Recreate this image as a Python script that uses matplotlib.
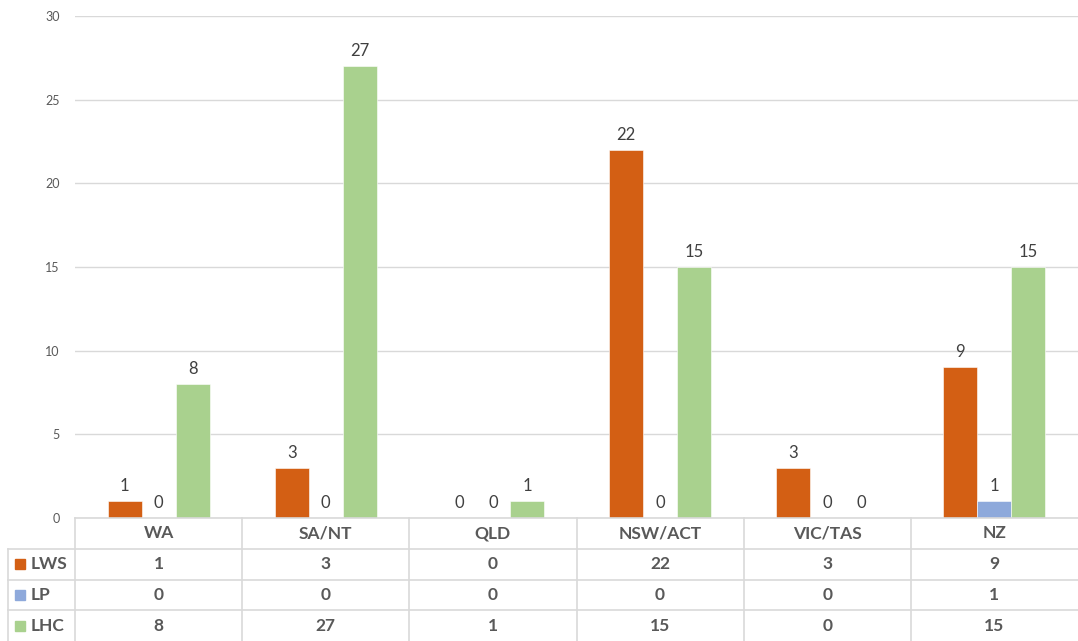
import matplotlib
matplotlib.use("Agg")
import matplotlib.pyplot as plt
import numpy as np

plt.rcParams['font.family'] = ['Lato', 'DejaVu Sans']

regions = ["WA", "SA/NT", "QLD", "NSW/ACT", "VIC/TAS", "NZ"]
series_names = ["LWS", "LP", "LHC"]
lws = [1, 3, 0, 22, 3, 9]
lp = [0, 0, 0, 0, 0, 1]
lhc = [8, 27, 1, 15, 0, 15]
yticks = [0, 5, 10, 15, 20, 25, 30]

colors = ["#D35F14", "#8EA9DB", "#A9D18E"]
grid_c = "#D9D9D9"
text_c = "#404040"

W, H = 1078, 641
fig = plt.figure(figsize=(W / 100, H / 100), dpi=100)

left_px, top_px, base_px = 75, 16, 518
ax = fig.add_axes([left_px / W, (H - base_px) / H, (W - left_px) / W, (base_px - top_px) / H])

n = len(regions)
x = np.arange(n)
bw = 34 / ((W - left_px) / n)
values = [lws, lp, lhc]
for i, (vals, c) in enumerate(zip(values, colors)):
    pos = x + (i - 1) * bw
    bars = ax.bar(pos, vals, width=bw, color=c, edgecolor="white", linewidth=0.4, zorder=3)
    for b, v in zip(bars, vals):
        ax.annotate(str(v), (b.get_x() + b.get_width() / 2, v), xytext=(0, 5),
                    textcoords="offset points", ha="center", va="bottom",
                    fontsize=12, color=text_c)

ax.set_xlim(-0.5, n - 0.5)
ax.set_ylim(0, 30)
ax.set_yticks(yticks)
ax.set_xticks([])
ax.yaxis.grid(True, color=grid_c, linewidth=1, zorder=0)
ax.tick_params(axis="y", length=0, pad=11, labelsize=9, labelcolor="#595959")
for s in ax.spines.values():
    s.set_visible(False)

# data table underneath the plot
tab = fig.add_axes([0, 0, 1, (H - base_px) / H])
unit = (W - left_px) / n
x0 = -0.5 - left_px / unit
tab.set_xlim(x0, n - 0.5)
tab.set_ylim(4, 0)
tab.axis("off")

first_col_left = x0 + 8 / unit
# horizontal lines
tab.plot([-0.5, n - 0.5], [0, 0], color=grid_c, lw=1.2, clip_on=False)
for r in (1, 2, 3):
    tab.plot([first_col_left, n - 0.5], [r, r], color=grid_c, lw=1.2, clip_on=False)
# vertical lines
tab.plot([first_col_left, first_col_left], [1, 4], color=grid_c, lw=1.2, clip_on=False)
for k in range(n):
    tab.plot([k - 0.5, k - 0.5], [0, 4], color=grid_c, lw=1.2, clip_on=False)

fs = 12.5
for k, name in enumerate(regions):
    tab.text(k, 0.5, name, ha="center", va="center", fontsize=fs, fontweight="bold", color="#595959")
for r, (name, vals, c) in enumerate(zip(series_names, values, colors), start=1):
    sq = 10 / unit
    tab.add_patch(plt.Rectangle((x0 + 15 / unit, r + 0.5 - 0.16), sq, 0.32, color=c, clip_on=False))
    tab.text(x0 + 31 / unit, r + 0.5, name, ha="left", va="center", fontsize=fs,
             fontweight="bold", color="#595959")
    for k, v in enumerate(vals):
        tab.text(k, r + 0.5, str(v), ha="center", va="center", fontsize=fs,
                 fontweight="bold", color="#595959")

fig.savefig("out.png", dpi=100)
